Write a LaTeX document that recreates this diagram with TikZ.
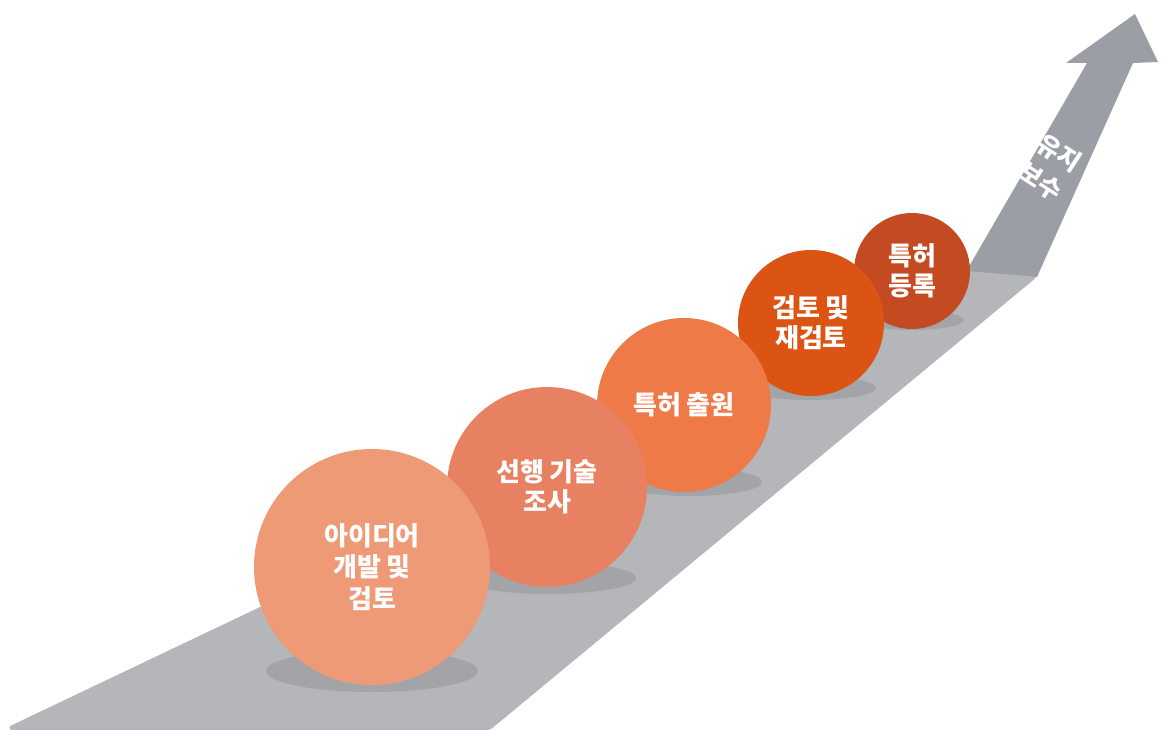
\documentclass[tikz,border=0pt]{standalone}
\usepackage{fontspec}
\newfontfamily\krfont{Noto Sans CJK KR}
\usepackage{tikz}
\usetikzlibrary{positioning}
\definecolor{roadlight}{HTML}{B5B6B9}
\definecolor{roaddark}{HTML}{9B9FA5}
\definecolor{shadowgray}{HTML}{A3A4A8}
\definecolor{stepA}{HTML}{EE9A77}
\definecolor{stepB}{HTML}{E88062}
\definecolor{stepC}{HTML}{EE7B47}
\definecolor{stepD}{HTML}{DB5414}
\definecolor{stepE}{HTML}{C44A22}

\begin{document}
\begin{tikzpicture}[x=1pt, y=-1pt,
  ball/.style={circle, inner sep=0pt, text=white, align=center,
    font=\krfont\bfseries\fontsize{26}{30}\selectfont},
  shade/.style={fill=shadowgray}]
  \useasboundingbox (0,0) rectangle (1170,730);

  % Road and arrow
  \fill[roaddark] (960,282) -- (1087,63) -- (1066,63) -- (1135,14) -- (1158,62)
    -- (1133,63) -- (1037,277) -- cycle;
  \fill[roadlight, rounded corners=3pt] (8,727) -- (966,271) -- (1037,277)
    -- (490,730) -- (12,731) -- cycle;
  \node[text=white, rotate=-33, align=center,
    font=\krfont\bfseries\fontsize{25}{34}\selectfont] (keep) at (1050,167) {유지\\보수};

  % Shadows
  \fill[shade] (912,320) ellipse (52 and 10);
  \fill[shade] (810,388) ellipse (66 and 12);
  \fill[shade] (690,482) ellipse (72 and 14);
  \fill[shade] (548,578) ellipse (88 and 16);
  \fill[shade] (372,671) ellipse (106 and 21);

  % Steps
  \node[ball, fill=stepE, minimum size=116pt] (grant) at (912,271) {특허\\등록};
  \node[ball, fill=stepD, minimum size=146pt] (review) at (811,323) {검토 및\\재검토};
  \node[ball, fill=stepC, minimum size=174pt] (filing) at (684,405) {특허 출원};
  \node[ball, fill=stepB, minimum size=200pt] (search) at (547,487) {선행 기술\\조사};
  \node[ball, fill=stepA, minimum size=236pt, font=\krfont\bfseries\fontsize{26}{31.5}\selectfont]
    (idea) at (372,567) {아이디어\\개발 및\\검토};
\end{tikzpicture}
\end{document}
